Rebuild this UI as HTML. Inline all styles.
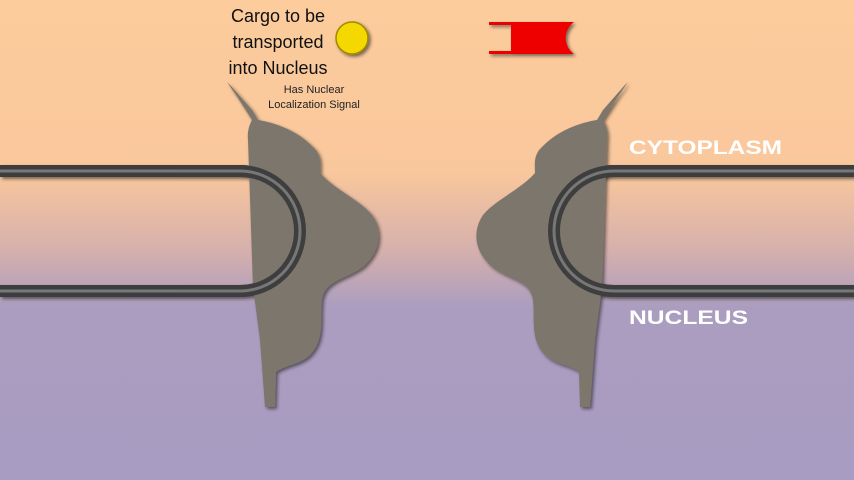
<!DOCTYPE html>
<html><head><style>
body{margin:0}
svg{display:block}
</style></head><body>
<svg width="854" height="480" viewBox="0 0 854 480" xmlns="http://www.w3.org/2000/svg">
<defs>
<linearGradient id="bg" x1="0" y1="0" x2="0" y2="1">
<stop offset="0" stop-color="#fccc9c"/>
<stop offset="0.36" stop-color="#f9c79c"/>
<stop offset="0.52" stop-color="#d6b0ac"/>
<stop offset="0.64" stop-color="#ab9dbf"/>
<stop offset="1" stop-color="#a89cc2"/>
</linearGradient>
<filter id="sh" x="-10%" y="-10%" width="130%" height="130%"><feDropShadow dx="2" dy="2" stdDeviation="1.5" flood-color="#222" flood-opacity="0.6"/></filter>
</defs>
<rect width="854" height="480" fill="url(#bg)"/>
<g fill="none" filter="url(#sh)">
<path d="M0 171 H240 A60 60 0 0 1 240 291 H0" stroke="#3e3e3e" stroke-width="12"/>
<path d="M0 171 H240 A60 60 0 0 1 240 291 H0" stroke="#777" stroke-width="3"/>
<path d="M854 171 H614 A60 60 0 0 0 614 291 H854" stroke="#3e3e3e" stroke-width="12"/>
<path d="M854 171 H614 A60 60 0 0 0 614 291 H854" stroke="#777" stroke-width="3"/>
</g>
<g fill="#7d766c" filter="url(#sh)">
<path d="M227 82 L231 86 L252 110 L258 120 C270 122 295 128 313 147 C322 155 320 165 320 173 C335 190 360 200 372 215 C382 230 382 250 363 267 C345 280 325 280 322 300 C320 320 325 340 310 355 C300 365 285 365 276 372 L275 407 L265 407 L260 340 L253 287 L248 140 C247 130 250 124 252 120 L238 98 Z"/>
<path transform="translate(855,0) scale(-1,1)" d="M227 82 L231 86 L252 110 L258 120 C270 122 295 128 313 147 C322 155 320 165 320 173 C335 190 360 200 372 215 C382 230 382 250 363 267 C345 280 325 280 322 300 C320 320 325 340 310 355 C300 365 285 365 276 372 L275 407 L265 407 L260 340 L253 287 L248 140 C247 130 250 124 252 120 L238 98 Z"/>
</g>
<g fill="none">
<path d="M180 171 H240 A60 60 0 0 1 240 291 H180" stroke="#3e3e3e" stroke-width="12"/>
<path d="M180 171 H240 A60 60 0 0 1 240 291 H180" stroke="#777" stroke-width="3"/>
<path d="M674 171 H614 A60 60 0 0 0 614 291 H674" stroke="#3e3e3e" stroke-width="12"/>
<path d="M674 171 H614 A60 60 0 0 0 614 291 H674" stroke="#777" stroke-width="3"/>
</g>
<circle cx="352" cy="38" r="16" fill="#f5d800" stroke="#a08a00" stroke-width="1.5" filter="url(#sh)"/>
<g filter="url(#sh)">
<rect x="489" y="22" width="25" height="3" fill="#ee0000"/>
<rect x="489" y="51" width="25" height="3" fill="#ee0000"/>
<path d="M511 22 H574 C563 30 563 46 574 54 H511 Z" fill="#ee0000"/>
</g>
<g font-family="Liberation Sans, sans-serif" fill="#111" text-anchor="middle">
<text x="278" y="22" font-size="18">Cargo to be</text>
<text x="278" y="48" font-size="18">transported</text>
<text x="278" y="74" font-size="18">into Nucleus</text>
<text x="314" y="93" font-size="11" fill="#222">Has Nuclear</text>
<text x="314" y="108" font-size="11" fill="#222">Localization Signal</text>
</g>
<g font-family="Liberation Sans, sans-serif" font-weight="bold" fill="#fff" font-size="19">
<text x="629" y="154" textLength="153" lengthAdjust="spacingAndGlyphs">CYTOPLASM</text>
<text x="629" y="324" textLength="119" lengthAdjust="spacingAndGlyphs">NUCLEUS</text>
</g>
</svg>
</body></html>
